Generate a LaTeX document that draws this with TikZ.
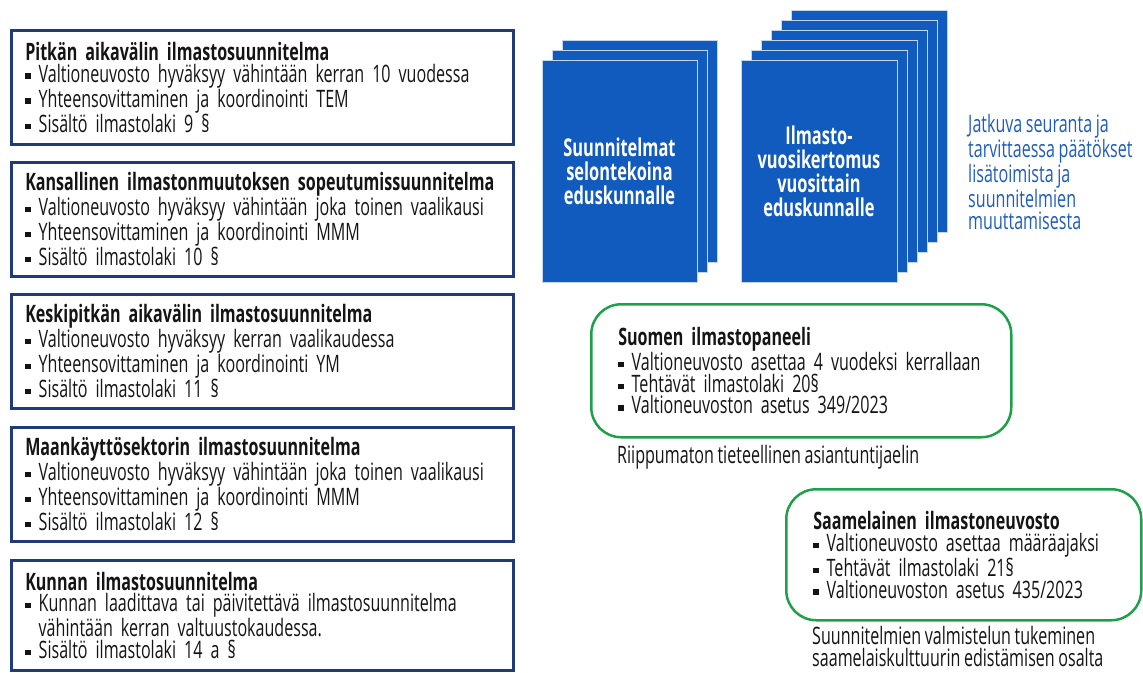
\documentclass[tikz,border=0pt]{standalone}
\usepackage{fontspec}
\setmainfont[FakeStretch=0.67,WordSpace=0.85]{Open Sans}
\usepackage{xcolor}
\usepackage{tikz}
\usetikzlibrary{positioning}

\definecolor{navy}{RGB}{32,58,122}
\definecolor{sheetblue}{RGB}{17,90,190}
\definecolor{textblue}{RGB}{30,92,192}
\definecolor{panelgreen}{RGB}{30,160,75}
\definecolor{ink}{RGB}{20,20,20}

\newcommand{\planfont}{\fontsize{24}{21.7}\selectfont}
\newcommand{\sheetfont}{\fontsize{24.5}{24}\selectfont\bfseries}
\newcommand{\bul}{\rule[0.14em]{0.22em}{0.22em}\hspace{0.34em}}
\newcommand{\bulind}{\hspace*{0.56em}}

\begin{document}
\begin{tikzpicture}[x=1pt,y=-1pt,
    planbox/.style={draw=navy, line width=2.5pt, text width=474pt, inner xsep=14pt,
        minimum height=114pt, align=left, font=\planfont, text=ink},
    panel/.style={draw=panelgreen, line width=2.5pt, rounded corners=30pt, inner xsep=27pt,
        align=left, font=\planfont, text=ink},
    sheet/.style={fill=sheetblue, draw=white!75!sheetblue, line width=1pt},
    sheetfront/.style={sheet, minimum width=155pt, minimum height=222pt, inner sep=0pt,
        align=center, font=\sheetfont, text=white},
    note/.style={align=left, font=\planfont, inner sep=0pt}]

% Page
\useasboundingbox (0,0) rectangle (1143,672);

% Climate plans
\node[planbox, anchor=north west] (pitka) at (10,29) {\textbf{Pitkän aikavälin ilmastosuunnitelma}\\
    \bul Valtioneuvosto hyväksyy vähintään kerran 10 vuodessa\\
    \bul Yhteensovittaminen ja koordinointi TEM\\
    \bul Sisältö ilmastolaki 9 §};
\node[planbox, below=15.5pt of pitka] (sopeutus) {\textbf{Kansallinen ilmastonmuutoksen sopeutumissuunnitelma}\\
    \bul Valtioneuvosto hyväksyy vähintään joka toinen vaalikausi\\
    \bul Yhteensovittaminen ja koordinointi MMM\\
    \bul Sisältö ilmastolaki 10 §};
\node[planbox, below=15.5pt of sopeutus] (keski) {\textbf{Keskipitkän aikavälin ilmastosuunnitelma}\\
    \bul Valtioneuvosto hyväksyy kerran vaalikaudessa\\
    \bul Yhteensovittaminen ja koordinointi YM\\
    \bul Sisältö ilmastolaki 11 §};
\node[planbox, below=16.5pt of keski] (maankaytto) {\textbf{Maankäyttösektorin ilmastosuunnitelma}\\
    \bul Valtioneuvosto hyväksyy vähintään joka toinen vaalikausi\\
    \bul Yhteensovittaminen ja koordinointi MMM\\
    \bul Sisältö ilmastolaki 12 §};
\node[planbox, below=16.5pt of maankaytto, minimum height=110pt] (kunta) {\textbf{Kunnan ilmastosuunnitelma}\\
    \bul Kunnan laadittava tai päivitettävä ilmastosuunnitelma\\
    \bulind vähintään kerran valtuustokaudessa.\\
    \bul Sisältö ilmastolaki 14 a §};

% Reports to parliament (stacked sheets)
\foreach \k in {2,1}
    \draw[sheet] (542+10*\k,60-10*\k) rectangle ++(155,222);
\node[sheetfront] (selonteko) at (619.5,171) {Suunnitelmat\\selontekoina\\eduskunnalle};

\foreach \k in {5,...,1}
    \draw[sheet] (741+10*\k,60-10*\k) rectangle ++(156,222);
\node[sheetfront, minimum width=156pt] (vuosikertomus) at (819,171) {Ilmasto-\\vuosikertomus\\vuosittain\\eduskunnalle};

% Follow-up
\node[note, text=textblue, anchor=north west] (seuranta) at (968,114) {Jatkuva seuranta ja\\
    tarvittaessa päätökset\\lisätoimista ja\\suunnitelmien\\muuttamisesta};

% Climate panel
\node[panel, anchor=north west, text width=366pt, minimum height=133pt] (paneeli) at (590,303) {\textbf{Suomen ilmastopaneeli}\\
    \bul Valtioneuvosto asettaa 4 vuodeksi kerrallaan\\
    \bul Tehtävät ilmastolaki 20§\\
    \bul Valtioneuvoston asetus 349/2023};
\node[note, text=ink, anchor=base west] (paneelirooli) at (617,463) {Riippumaton tieteellinen asiantuntijaelin};

% Sami climate council
\node[panel, anchor=north west, text width=301pt, minimum height=131pt] (neuvosto) at (785,488) {\textbf{Saamelainen ilmastoneuvosto}\\
    \bul Valtioneuvosto asettaa määräajaksi\\
    \bul Tehtävät ilmastolaki 21§\\
    \bul Valtioneuvoston asetus 435/2023};
\node[note, text=ink, anchor=north west] (neuvostorooli) at (812,626) {Suunnitelmien valmistelun tukeminen\\
    saamelaiskulttuurin edistämisen osalta};

\end{tikzpicture}
\end{document}
